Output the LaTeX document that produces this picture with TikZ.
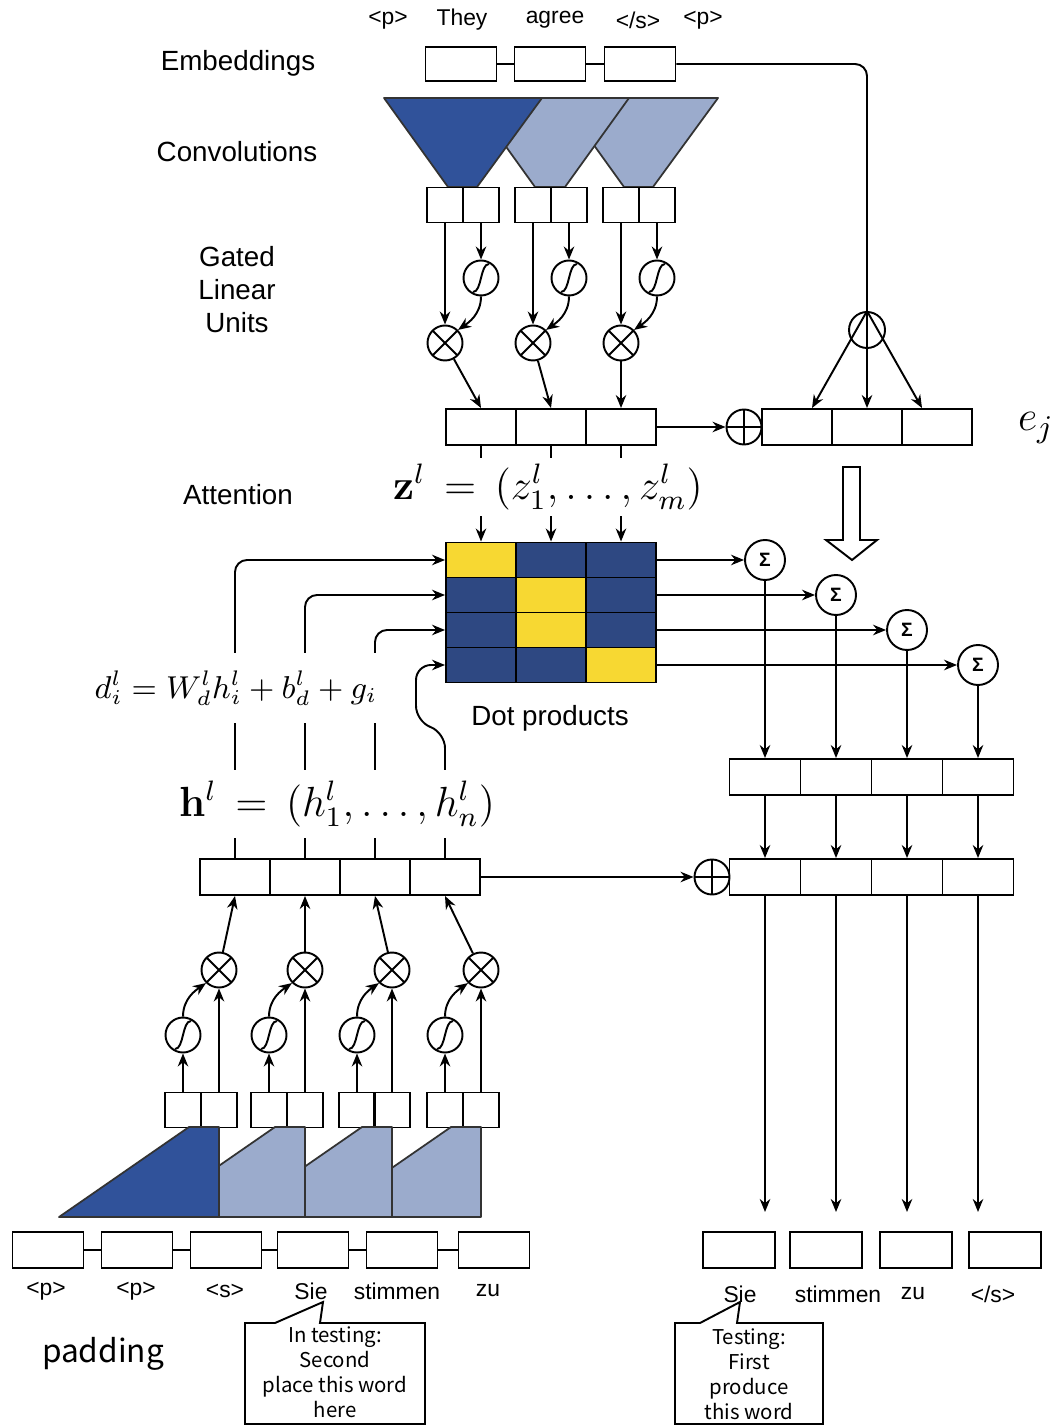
\documentclass[tikz,border=0pt]{standalone}
\usepackage[no-math]{fontspec}
\setmainfont{Liberation Sans}
\newfontfamily\cjk{Noto Sans CJK SC}
\usetikzlibrary{arrows.meta}
\definecolor{convdark}{HTML}{30529A}
\definecolor{convlight}{HTML}{9BABCC}
\definecolor{cellblue}{HTML}{2E4882}
\definecolor{cellgold}{HTML}{F7D832}

\begin{document}
\begin{tikzpicture}[x=0.1mm, y=-0.1mm, line width=0.55pt,
  arr/.style={-{Stealth[length=1.3mm,width=1.05mm]}},
  cell/.style={draw, minimum width=7.1mm, minimum height=3.6mm, inner sep=0pt},
  halfcell/.style={draw, minimum width=3.6mm, minimum height=3.5mm, inner sep=0pt},
  op/.style={draw, circle, minimum size=3.5mm, inner sep=0pt},
  mul/.style={op, path picture={\draw (path picture bounding box.north west) -- (path picture bounding box.south east) (path picture bounding box.north east) -- (path picture bounding box.south west);}},
  plusop/.style={op, path picture={\draw (path picture bounding box.north) -- (path picture bounding box.south) (path picture bounding box.east) -- (path picture bounding box.west);}},
  sig/.style={op, path picture={\draw (path picture bounding box.center) ++(-8,14) .. controls +(9,0) and +(-9,0) .. ++(16,-28);}},
  sumop/.style={op, minimum size=4mm, font=\fontsize{5.5}{6}\selectfont\bfseries},
  dotcell/.style={draw, minimum width=7mm, minimum height=3.5mm, inner sep=0pt, fill=cellblue},
  lbl/.style={font=\fontsize{7.9}{9.4}\selectfont},
  word/.style={font=\fontsize{6.5}{7.8}\selectfont},
  note/.style={font=\cjk\fontsize{5.8}{7.1}\selectfont, align=center},
  conv/.style={draw=black!80, line width=0.5pt, line join=round}
]
\useasboundingbox (0,0) rectangle (1050,1426);

% Layer names
\node[lbl] (lemb) at (238,63) {Embeddings};
\node[lbl] (lconv) at (237,152) {Convolutions};
\node[lbl, align=center] (lglu) at (237,290) {Gated\\Linear\\Units};
\node[lbl] (latt) at (238,495) {Attention};

% Source words and embeddings
\node[word] (w0) at (388,20) {<p>};
\node[word] (w1) at (462,20) {They};
\node[word] (w2) at (555,20) {agree};
\node[word] (w3) at (638,20) {</s>};
\node[word] (w4) at (703,20) {<p>};
\node[cell, minimum height=3.4mm] (emb1) at (461,64) {};
\node[cell, minimum height=3.4mm] (emb2) at (550,64) {};
\node[cell, minimum height=3.4mm] (emb3) at (640,64) {};
\draw (emb1) -- (emb2);
\draw (emb2) -- (emb3);

% Encoder convolutions
\filldraw[conv, fill=convlight] (560,98) -- (718,98) -- (653,187) -- (624,187) -- cycle;
\filldraw[conv, fill=convlight] (471,98) -- (629,98) -- (565,187) -- (535,187) -- cycle;
\filldraw[conv, fill=convdark] (384,98) -- (542,98) -- (477,187) -- (448,187) -- cycle;
\node[halfcell] (c1a) at (445,205) {};
\node[halfcell] (c1b) at (481,205) {};
\node[halfcell] (c2a) at (533,205) {};
\node[halfcell] (c2b) at (569,205) {};
\node[halfcell] (c3a) at (621,205) {};
\node[halfcell] (c3b) at (657,205) {};

% Encoder GLU
\node[sig] (s1) at (481,278) {};
\node[sig] (s2) at (569,278) {};
\node[sig] (s3) at (657,278) {};
\node[mul] (m1) at (445,343) {};
\node[mul] (m2) at (533,343) {};
\node[mul] (m3) at (621,343) {};
\draw[arr] (c1a) -- (m1);
\draw[arr] (c2a) -- (m2);
\draw[arr] (c3a) -- (m3);
\draw[arr] (c1b) -- (s1);
\draw[arr] (c2b) -- (s2);
\draw[arr] (c3b) -- (s3);
\draw[arr] (s1.south) .. controls +(0,18) and +(10,-7) .. (m1.north east);
\draw[arr] (s2.south) .. controls +(0,18) and +(10,-7) .. (m2.north east);
\draw[arr] (s3.south) .. controls +(0,18) and +(10,-7) .. (m3.north east);

% Encoder output z and embeddings e
\node[cell, minimum width=7mm] (z1) at (481,427) {};
\node[cell, minimum width=7mm] (z2) at (551,427) {};
\node[cell, minimum width=7mm] (z3) at (621,427) {};
\draw[arr] (m1) -- (z1.north);
\draw[arr] (m2) -- (z2.north);
\draw[arr] (m3) -- (z3.north);
\node[plusop] (ptop) at (744,427) {};
\draw[arr] (z3) -- (ptop);
\node[cell, minimum width=7mm] (e1) at (797,427) {};
\node[cell, minimum width=7mm] (e2) at (867,427) {};
\node[cell, minimum width=7mm] (e3) at (937,427) {};
\node[op, minimum size=3.6mm] (lam) at (867,330) {};
\draw[rounded corners=1.2mm] (emb3) -- (emb3 -| lam) -- (lam);
\draw[arr] (lam.north) -- ([xshift=1.5mm]e1.north);
\draw[arr] (lam.north) -- (e2.north);
\draw[arr] (lam.north) -- ([xshift=-1.5mm]e3.north);
\node (ej) at (1036,428) {\fontsize{12.5}{14}\selectfont$e_j$};

% Hollow arrow
\draw[line join=miter, fill=white] (843,467) -- (860,467) -- (860,540) -- (877,540) -- (852,560) -- (826,540) -- (843,540) -- cycle;

% Dot products
\node[dotcell, fill=cellgold] (g11) at (481,560) {};
\node[dotcell] (g12) at (551,560) {};
\node[dotcell] (g13) at (621,560) {};
\node[dotcell] (g21) at (481,595) {};
\node[dotcell, fill=cellgold] (g22) at (551,595) {};
\node[dotcell] (g23) at (621,595) {};
\node[dotcell] (g31) at (481,630) {};
\node[dotcell, fill=cellgold] (g32) at (551,630) {};
\node[dotcell] (g33) at (621,630) {};
\node[dotcell] (g41) at (481,665) {};
\node[dotcell] (g42) at (551,665) {};
\node[dotcell, fill=cellgold] (g43) at (621,665) {};
\node[lbl] (ldot) at (550,718) {Dot products};
\draw[arr] (z1) -- (g11);
\draw[arr] (z2) -- (g12);
\draw[arr] (z3) -- (g13);
\node[fill=white, inner sep=0.6mm] (zlab) at (548,487) {\fontsize{11.5}{13}\selectfont$\mathbf{z}^l\,=\,(z^l_1,\ldots,z^l_m)$};

% Weighted sums
\node[sumop] (sum1) at (765,560) {Σ};
\node[sumop] (sum2) at (836,595) {Σ};
\node[sumop] (sum3) at (907,630) {Σ};
\node[sumop] (sum4) at (978,665) {Σ};
\draw[arr] (g13) -- (sum1);
\draw[arr] (g23) -- (sum2);
\draw[arr] (g33) -- (sum3);
\draw[arr] (g43) -- (sum4);
\node[cell] (a1) at (765,777) {};
\node[cell] (a2) at (836,777) {};
\node[cell] (a3) at (907,777) {};
\node[cell] (a4) at (978,777) {};
\draw[arr] (sum1) -- (a1);
\draw[arr] (sum2) -- (a2);
\draw[arr] (sum3) -- (a3);
\draw[arr] (sum4) -- (a4);
\node[cell] (o1) at (765,877) {};
\node[cell] (o2) at (836,877) {};
\node[cell] (o3) at (907,877) {};
\node[cell] (o4) at (978,877) {};
\draw[arr] (a1) -- (o1);
\draw[arr] (a2) -- (o2);
\draw[arr] (a3) -- (o3);
\draw[arr] (a4) -- (o4);
\node[plusop] (pbot) at (712,877) {};

% Decoder state h
\node[cell, minimum width=7mm] (h1) at (235,877) {};
\node[cell, minimum width=7mm] (h2) at (305,877) {};
\node[cell, minimum width=7mm] (h3) at (375,877) {};
\node[cell, minimum width=7mm] (h4) at (445,877) {};
\draw[arr] (h4) -- (pbot);
\draw[arr, rounded corners=1.2mm] (h1) |- (g11.west);
\draw[arr, rounded corners=1.2mm] (h2) |- (g21.west);
\draw[arr, rounded corners=1.2mm] (h3) |- (g31.west);
\draw[arr, rounded corners=1.5mm] (h4.north) -- ++(0,-125) -- ++(-29,-12) |- (g41.west);
\node[fill=white, minimum width=29mm, minimum height=7mm] (dlab) at (236,688) {\fontsize{9}{11}\selectfont$d^l_i = W^l_d h^l_i + b^l_d + g_i$};
\node[fill=white, inner xsep=0.8mm, minimum height=5.8mm] (hlab) at (337,804) {\fontsize{11.5}{13}\selectfont$\mathbf{h}^l\,=\,(h^l_1,\ldots,h^l_n)$};

% Decoder GLU
\node[mul] (bm1) at (219,970) {};
\node[mul] (bm2) at (305,970) {};
\node[mul] (bm3) at (392,970) {};
\node[mul] (bm4) at (481,970) {};
\node[sig] (bs1) at (183,1035) {};
\node[sig] (bs2) at (269,1035) {};
\node[sig] (bs3) at (357,1035) {};
\node[sig] (bs4) at (445,1035) {};
\node[halfcell] (d1a) at (183,1110) {};
\node[halfcell] (d1b) at (219,1110) {};
\node[halfcell] (d2a) at (269,1110) {};
\node[halfcell] (d2b) at (305,1110) {};
\node[halfcell] (d3a) at (357,1110) {};
\node[halfcell] (d3b) at (392,1110) {};
\node[halfcell] (d4a) at (445,1110) {};
\node[halfcell] (d4b) at (481,1110) {};
\draw[arr] (d1a) -- (bs1);
\draw[arr] (d2a) -- (bs2);
\draw[arr] (d3a) -- (bs3);
\draw[arr] (d4a) -- (bs4);
\draw[arr] (d1b) -- (bm1);
\draw[arr] (d2b) -- (bm2);
\draw[arr] (d3b) -- (bm3);
\draw[arr] (d4b) -- (bm4);
\draw[arr] (bs1.north) .. controls +(0,-18) and +(-10,7) .. (bm1.south west);
\draw[arr] (bs2.north) .. controls +(0,-18) and +(-10,7) .. (bm2.south west);
\draw[arr] (bs3.north) .. controls +(0,-18) and +(-10,7) .. (bm3.south west);
\draw[arr] (bs4.north) .. controls +(0,-18) and +(-10,7) .. (bm4.south west);
\draw[arr] (bm1) -- (h1.south);
\draw[arr] (bm2) -- (h2.south);
\draw[arr] (bm3) -- (h3.south);
\draw[arr] (bm4) -- (h4.south);

% Decoder convolutions
\filldraw[conv, fill=convlight] (451,1127) -- (481,1127) -- (481,1217) -- (321,1217) -- cycle;
\filldraw[conv, fill=convlight] (362,1127) -- (392,1127) -- (392,1217) -- (232,1217) -- cycle;
\filldraw[conv, fill=convlight] (275,1127) -- (305,1127) -- (305,1217) -- (145,1217) -- cycle;
\filldraw[conv, fill=convdark] (189,1127) -- (219,1127) -- (219,1217) -- (59,1217) -- cycle;

% Target words
\node[cell] (x1) at (48,1250) {};
\node[cell] (x2) at (137,1250) {};
\node[cell] (x3) at (226,1250) {};
\node[cell] (x4) at (313,1250) {};
\node[cell] (x5) at (402,1250) {};
\node[cell] (x6) at (494,1250) {};
\draw (x1) -- (x2);
\draw (x2) -- (x3);
\draw (x3) -- (x4);
\draw (x4) -- (x5);
\draw (x5) -- (x6);
\node[word] (y1) at (46,1291) {<p>};
\node[word] (y2) at (136,1291) {<p>};
\node[word] (y3) at (225,1291) {<s>};
\node[word] (y4) at (311,1291) {Sie};
\node[word] (y5) at (397,1291) {stimmen};
\node[word] (y6) at (488,1291) {zu};

% Outputs
\node[cell, minimum width=7.2mm] (r1) at (739,1250) {};
\node[cell, minimum width=7.2mm] (r2) at (826,1250) {};
\node[cell, minimum width=7.2mm] (r3) at (916,1250) {};
\node[cell, minimum width=7.2mm] (r4) at (1005,1250) {};
\coordinate (t1) at (765,1212);
\coordinate (t2) at (836,1212);
\coordinate (t3) at (907,1212);
\coordinate (t4) at (978,1212);
\draw[arr] (o1) -- (t1);
\draw[arr] (o2) -- (t2);
\draw[arr] (o3) -- (t3);
\draw[arr] (o4) -- (t4);
\node[word] (q1) at (740,1294) {Sie};
\node[word] (q2) at (838,1294) {stimmen};
\node[word] (q3) at (913,1294) {zu};
\node[word] (q4) at (993,1294) {</s>};

% Notes
\node[font=\cjk\fontsize{9}{11}\selectfont] (lpad) at (103,1354) {padding};
\draw[fill=white] (245,1424) -- (245,1323) -- (275,1323) -- (323,1302) -- (320,1323) -- (425,1323) -- (425,1424) -- cycle;
\node[note] (n1) at (335,1372) {In testing:\\Second\\place this word\\here};
\draw[fill=white] (675,1424) -- (675,1323) -- (700,1323) -- (740,1302) -- (737,1323) -- (823,1323) -- (823,1424) -- cycle;
\node[note] (n2) at (749,1374) {Testing:\\First\\produce\\this word};
\end{tikzpicture}
\end{document}
